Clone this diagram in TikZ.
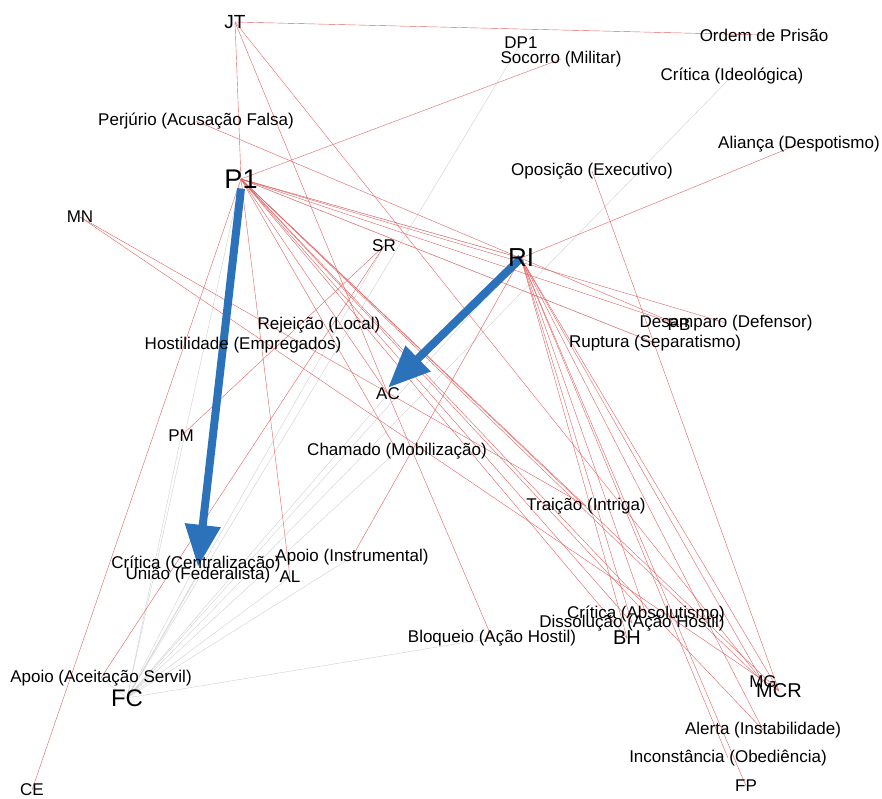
\documentclass[tikz,border=0pt]{standalone}
\usepackage{fontspec}
\setmainfont{Liberation Sans}
\usetikzlibrary{arrows.meta}
\pgfdeclarelayer{bg}
\pgfsetlayers{bg,main}
\definecolor{tiered}{RGB}{226,96,96}
\definecolor{tiegray}{RGB}{208,208,208}
\definecolor{flowblue}{RGB}{44,114,186}

\begin{document}
\begin{tikzpicture}[x=1pt,y=-1pt,
  vtx/.style={inner sep=0pt,font=\fontsize{17}{17}\selectfont},
  tie/.style={draw=tiered,line width=0.4pt},
  faint/.style={draw=tiegray,line width=0.4pt},
  flow/.style={draw=flowblue,line width=8pt,-{Triangle[length=42pt,width=34pt]}}]
  \useasboundingbox (0,0) rectangle (882,799);
  \node[vtx,font=\fontsize{19}{19}\selectfont] (JT) at (235,22) {JT};
  \node[vtx] (OP) at (764,35) {Ordem de Prisão};
  \node[vtx] (DP1) at (521,43) {DP1};
  \node[vtx] (SM) at (561,59) {Socorro (Militar)};
  \node[vtx] (CI) at (732,76) {Crítica (Ideológica)};
  \node[vtx] (PF) at (196,121) {Perjúrio (Acusação Falsa)};
  \node[vtx] (AD) at (799,144) {Aliança (Despotismo)};
  \node[vtx] (OE) at (592,171) {Oposição (Executivo)};
  \node[vtx,font=\fontsize{27}{27}\selectfont] (P1) at (241,179) {P1};
  \node[vtx] (MN) at (80,217) {MN};
  \node[vtx] (SR) at (384,246) {SR};
  \node[vtx,font=\fontsize{26}{26}\selectfont] (RI) at (521,258) {RI};
  \node[vtx] (DD) at (726,323) {Desamparo (Defensor)};
  \node[vtx] (PB) at (679,325) {PB};
  \node[vtx] (RS) at (655,343) {Ruptura (Separatismo)};
  \node[vtx] (RL) at (319,325) {Rejeição (Local)};
  \node[vtx] (HE) at (243,345) {Hostilidade (Empregados)};
  \node[vtx] (AC) at (388,394) {AC};
  \node[vtx] (PM) at (181,436) {PM};
  \node[vtx] (CM) at (397,451) {Chamado (Mobilização)};
  \node[vtx] (TI) at (586,506) {Traição (Intriga)};
  \node[vtx] (CC) at (196,564) {Crítica (Centralização)};
  \node[vtx] (UF) at (198,575) {União (Federalista)};
  \node[vtx] (AIn) at (352,557) {Apoio (Instrumental)};
  \node[vtx] (AL) at (290,577) {AL};
  \node[vtx] (BA) at (492,638) {Bloqueio (Ação Hostil)};
  \node[vtx] (CA) at (646,614) {Crítica (Absolutismo)};
  \node[vtx] (DA) at (632,623) {Dissolução (Ação Hostil)};
  \node[vtx,font=\fontsize{20}{20}\selectfont] (BH) at (627,638) {BH};
  \node[vtx] (AS) at (101,678) {Apoio (Aceitação Servil)};
  \node[vtx,font=\fontsize{24}{24}\selectfont] (FC) at (127,698) {FC};
  \node[vtx] (MG) at (763,682) {MG};
  \node[vtx,font=\fontsize{20}{20}\selectfont] (MCR) at (779,691) {MCR};
  \node[vtx] (AI) at (763,730) {Alerta (Instabilidade)};
  \node[vtx] (IO) at (728,758) {Inconstância (Obediência)};
  \node[vtx] (FP) at (746,786) {FP};
  \node[vtx] (CE) at (32,790) {CE};
  \begin{pgfonlayer}{bg}
  % grey ties into FC
  \draw[faint] (FC.center) -- (DP1.center);
  \draw[faint] (FC.center) -- (CI.center);
  \draw[faint] (FC.center) -- (P1.center);
  \draw[faint] (FC.center) -- (PM.center);
  \draw[faint] (FC.center) -- (SR.center);
  \draw[faint] (FC.center) -- (AC.center);
  \draw[faint] (FC.center) -- (CM.center);
  \draw[faint] (FC.center) -- (AL.center);
  \draw[faint] (FC.center) -- (AIn.center);
  \draw[faint] (FC.center) -- (UF.center);
  \draw[faint] (FC.center) -- (CC.center);
  \draw[faint] (FC.center) -- (BA.center);
  \draw[faint] (FC.center) -- (AS.center);
  \draw[faint] (FC.center) -- (RI.center);
  \draw[faint] (P1.center) -- (RI.center);
  \draw[faint] (P1.center) -- (RS.center);
  % red ties
  \draw[tie] (JT.center) -- (OP.center);
  \draw[tie] (JT.center) -- (P1.center);
  \draw[tie] (JT.center) -- (AC.center);
  \draw[tie] (JT.center) -- (MG.center);
  \draw[tie] (P1.center) -- (SM.center);
  \draw[tie] (P1.center) -- (PB.center);
  \draw[tie] (P1.center) -- (DD.center);
  \draw[tie] (P1.center) -- (RS.center);
  \draw[tie] (P1.center) -- (RI.center);
  \draw[tie] (P1.center) -- (MCR.center);
  \draw[tie] (P1.center) -- (MG.center);
  \draw[tie] (P1.center) -- (BH.center);
  \draw[tie] (P1.center) -- (CA.center);
  \draw[tie] (P1.center) -- (DA.center);
  \draw[tie] (P1.center) -- (TI.center);
  \draw[tie] (P1.center) -- (AC.center);
  \draw[tie] (P1.center) -- (CM.center);
  \draw[tie] (P1.center) -- (AL.center);
  \draw[tie] (P1.center) -- (CE.center);
  \draw[tie] (P1.center) -- (AI.center);
  \draw[tie] (PF.center) -- (PB.center);
  \draw[tie] (MN.center) -- (MCR.center);
  \draw[tie] (MN.center) -- (TI.center);
  \draw[tie] (RI.center) -- (AD.center);
  \draw[tie] (RI.center) -- (BH.center);
  \draw[tie] (RI.center) -- (CA.center);
  \draw[tie] (RI.center) -- (DA.center);
  \draw[tie] (RI.center) -- (MCR.center);
  \draw[tie] (RI.center) -- (MG.center);
  \draw[tie] (RI.center) -- (FP.center);
  \draw[tie] (RI.center) -- (IO.center);
  \draw[tie] (RI.center) -- (AI.center);
  \draw[tie] (RI.center) -- (AIn.center);
  \draw[tie] (SR.center) -- (AS.center);
  \draw[tie] (SR.center) -- (PM.center);
  \draw[tie] (OE.center) -- (MCR.center);
  \draw[tie] (BA.center) -- (AC.center);
  % heavy flows
  \draw[flow] (P1.south) -- (UF.north);
  \draw[flow] (RI.center) -- (AC.north);
  \end{pgfonlayer}
\end{tikzpicture}
\end{document}
